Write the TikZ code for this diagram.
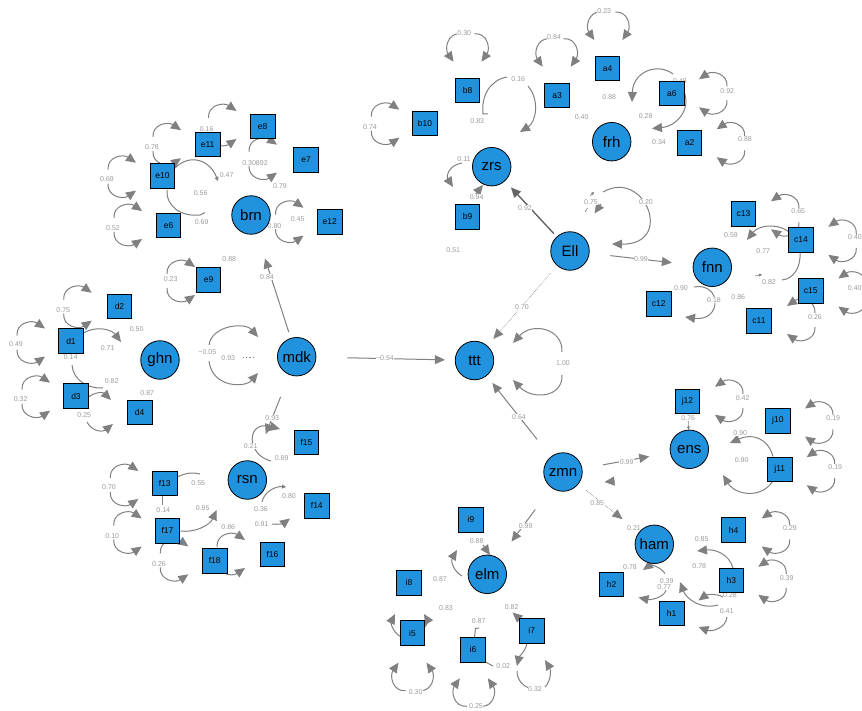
\documentclass[tikz,border=0pt]{standalone}
\usepackage{fontspec}
\setmainfont{Liberation Sans}
\usetikzlibrary{arrows.meta}
\definecolor{nodeblue}{RGB}{33,147,222}
\definecolor{edgegray}{RGB}{128,128,128}
\definecolor{labgray}{RGB}{155,155,155}
\pgfdeclarelayer{bg}
\pgfsetlayers{bg,main}
\tikzset{
  lat/.style={circle, draw=black, line width=0.8pt, fill=nodeblue,
    minimum size=38.5pt, inner sep=0pt, font=\fontsize{15}{15}\selectfont},
  obs/.style={rectangle, draw=black, line width=0.8pt, fill=nodeblue,
    minimum size=24.5pt, inner sep=0pt, font=\fontsize{8.5}{9}\selectfont},
  ln/.style={draw=edgegray, line width=1pt},
  arr/.style={ln, -{Triangle[length=10pt,width=9pt]}},
  smallarr/.style={ln, -{Triangle[length=4pt,width=4pt]}},
  tinyarr/.style={ln, line width=0.6pt, -{Triangle[length=3pt,width=3pt]}},
  lab/.style={text=labgray, font=\fontsize{7}{7}\selectfont, inner sep=0.4pt, fill=white},
}
% variance loop: centre x, centre y, rotation, label, label shift x, label shift y
\newcommand\semloop[6]{%
  \begin{scope}[shift={(#1,#2)},rotate=#3]
    \draw[arr] (1,-7) .. controls (0,-20) and (16,-23) .. (29,-14);
    \draw[arr] (1,7) .. controls (0,20) and (16,23) .. (29,14);
  \end{scope}
  \node[lab] at ({#1+(#5)},{#2+(#6)}) {#4};}

\begin{document}
\begin{tikzpicture}[x=1pt,y=1pt,yscale=-1]
\useasboundingbox (0,0) rectangle (862,711);

% ---------- latent variables ----------
\node[lat] (brn) at (251,215) {brn};
\node[lat] (ghn) at (160,360) {ghn};
\node[lat] (mdk) at (296.7,356.7) {mdk};
\node[lat] (rsn) at (247.3,480) {rsn};
\node[lat] (zrs) at (491.7,166.7) {zrs};
\node[lat] (frh) at (611.7,141.7) {frh};
\node[lat] (Ell) at (570,251) {Ell};
\node[lat] (fnn) at (712.3,267.3) {fnn};
\node[lat] (ttt) at (474.5,360.5) {ttt};
\node[lat] (zmn) at (563,472) {zmn};
\node[lat] (ens) at (689.3,449.3) {ens};
\node[lat] (ham) at (654.3,544.3) {ham};
\node[lat] (elm) at (487.3,574.3) {elm};

% ---------- indicators ----------
\node[obs] (e8) at (262.7,126.5) {e8};
\node[obs] (e11) at (207.7,144.5) {e11};
\node[obs] (e7) at (306,160) {e7};
\node[obs] (e10) at (162.5,176) {e10};
\node[obs] (e6) at (168.5,225.5) {e6};
\node[obs] (e12) at (329.7,222) {e12};
\node[obs] (e9) at (208.5,279.7) {e9};
\node[obs] (d2) at (119.5,306.5) {d2};
\node[obs] (d1) at (71,341) {d1};
\node[obs] (d3) at (76,396) {d3};
\node[obs] (d4) at (139.7,412.5) {d4};
\node[obs] (f15) at (306.5,442.5) {f15};
\node[obs] (f13) at (164.7,483.5) {f13};
\node[obs] (f17) at (167.5,530.8) {f17};
\node[obs] (f18) at (214.7,560.8) {f18};
\node[obs] (f14) at (316.8,505.8) {f14};
\node[obs] (f16) at (272.5,554.2) {f16};
\node[obs] (b8) at (467.5,90.5) {b8};
\node[obs] (b10) at (425,123.5) {b10};
\node[obs] (a3) at (557,95.5) {a3};
\node[obs] (a4) at (607.5,68.5) {a4};
\node[obs] (a6) at (671.8,93.2) {a6};
\node[obs] (a2) at (689.5,142.8) {a2};
\node[obs] (b9) at (467.5,216.8) {b9};
\node[obs] (c13) at (743.5,213.7) {c13};
\node[obs] (c14) at (801,239.7) {c14};
\node[obs] (c15) at (810.8,290.8) {c15};
\node[obs] (c11) at (759,320.8) {c11};
\node[obs] (c12) at (658.8,304) {c12};
\node[obs] (j12) at (687.5,401.5) {j12};
\node[obs] (j10) at (777.8,420.8) {j10};
\node[obs] (j11) at (779.8,469.5) {j11};
\node[obs] (h4) at (733.5,530) {h4};
\node[obs] (h3) at (731.3,580.5) {h3};
\node[obs] (h2) at (611.5,584.5) {h2};
\node[obs] (h1) at (671.7,613.5) {h1};
\node[obs] (i9) at (471,519.8) {i9};
\node[obs] (i8) at (409,582.8) {i8};
\node[obs] (i5) at (412.5,633) {i5};
\node[obs] (i6) at (473,649.8) {i6};
\node[obs] (i7) at (531.8,630.8) {i7};

\begin{pgfonlayer}{bg}
% ---------- structural paths ----------
\draw[arr, shorten <=31pt, shorten >=10pt] (mdk) -- (ttt);
\node[lab] at (385,358.5) {−0.54};
\draw[arr, shorten <=6pt, shorten >=26pt] (mdk) -- (brn);
\node[lab] at (267,277.3) {0.84};
\draw[arr, shorten <=23.6pt, shorten >=29.8pt] (mdk) -- (rsn);
\node[lab] at (272.3,418.3) {0.93};
\draw[arr, line width=1.4pt, draw=gray!80!black, shorten <=4pt, shorten >=8.6pt] (Ell) -- (zrs);
\node[lab] at (525,207.7) {0.92};
\draw[arr, line width=0.6pt, densely dotted, shorten <=10pt, shorten >=9pt] (Ell) -- (ttt);
\node[lab] at (522,307) {0.70};
\draw[arr, shorten <=21pt, shorten >=21pt] (Ell) -- (fnn);
\node[lab] at (641,259) {0.99};
\draw[arr, shorten <=22pt, shorten >=9pt] (zmn) -- (ttt);
\node[lab] at (519,416.7) {0.64};
\draw[arr, shorten <=21pt, shorten >=21pt] (zmn) -- (ens);
\node[lab] at (626.7,462.3) {0.99};
\draw[arr, line width=0.6pt, densely dotted, shorten <=10pt, shorten >=21pt] (zmn) -- (ham);
\node[lab] at (597.3,502.7) {0.85};
\draw[arr, shorten <=27pt, shorten >=21pt] (zmn) -- (elm);
\node[lab] at (525.7,525.7) {0.99};
\draw[arr] (615,481) -- (604.5,482);
\draw[tinyarr] (j12) -- (ens);
\node[lab] at (688.3,417.7) {0.76};

% ttt variance
\draw[arr] (562,352) .. controls (563,328) and (532,322) .. (513,343);
\draw[arr] (562,375) .. controls (563,398) and (532,400) .. (513,380);
\node[lab] at (563,363) {1.00};

% Ell variance
\draw[arr] (603,192) .. controls (645,168) and (675,245) .. (612,244);
\node[lab] at (646,202) {0.20};
\draw[arr] (601,204) -- (594.5,213.5);
\draw[tinyarr] (590,196) -- (594,192);
\draw[ln, line width=0.6pt] (585,212) -- (587.5,208);
\node[lab] at (591,201.7) {0.75};

% ---------- brn block ----------
\semloop{152}{144.2}{0}{0.78}{0}{3}
\semloop{107}{176.7}{0}{0.69}{0}{2.6}
\semloop{113}{225}{0}{0.52}{0}{3}
\semloop{166}{281}{0}{0.23}{4.7}{-1.7}
\semloop{207.5}{125}{0}{0.16}{-0.8}{4.3}
\semloop{248}{158.7}{0}{0.30892}{7}{4.6}
\semloop{274.5}{221.7}{0}{0.80}{0}{4}
\node[lab] at (297.7,219.3) {0.45};
\node[lab] at (280,185.7) {0.79};
\draw[smallarr] (175,168) .. controls (190,153) and (210,160) .. (218,181);
\node[lab] at (226.7,175.3) {0.47};
\draw[ln] (167,190) .. controls (166,207) and (182,217) .. (200,215) -- (205,212.7);
\node[lab] at (201.7,221.7) {0.69};
\node[lab] at (200.7,193.3) {0.56};
\node[lab] at (229.3,259.3) {0.88};

% ---------- ghn / mdk block ----------
\semloop{62.7}{306.7}{0}{0.75}{0.6}{3.3}
\semloop{16}{342.5}{0}{0.49}{0}{2}
\semloop{21}{396.7}{0}{0.32}{-0.3}{2.6}
\draw[arr] (83.5,333) .. controls (97,325) and (112,330) .. (121,342);
\node[lab] at (107.7,348.3) {0.71};
\node[lab] at (136.7,329.3) {0.50};
\draw[ln] (72,365) .. controls (73,380) and (88,389) .. (103,388);
\node[lab] at (70.7,357.3) {0.14};
\node[lab] at (111.7,380.7) {0.82};
\draw[arr] (88.5,397) .. controls (95,392) and (103,392) .. (111,400);
\node[lab] at (147.3,392.7) {0.87};
\draw[arr] (87,422) .. controls (92,432) and (103,432) .. (113,424);
\node[lab] at (84.3,415) {0.25};
\draw[arr] (209,345) .. controls (212,325) and (245,322) .. (258,337);
\draw[arr] (209,361) .. controls (212,388) and (245,388) .. (258,373);
\node[lab] at (207.3,352.3) {−0.05};
\node[lab] at (228.3,358.3) {0.93};
\draw[edgegray, line width=1.2pt, dash pattern=on 1.2pt off 2pt] (243,357.7) -- (255,357.7);

% ---------- rsn block ----------
\draw[arr] (271,461) .. controls (246,455) and (246,420) .. (280,429);
\node[lab] at (250.7,445.7) {0.21};
\node[lab] at (281.7,458.3) {0.89};
\semloop{109.3}{485}{0}{0.70}{-0.3}{1.7}
\semloop{112.7}{532.5}{0}{0.10}{-0.4}{3.2}
\semloop{159.3}{560.3}{0}{0.26}{-0.3}{3.7}
\semloop{216}{554}{0}{}{0}{0}
\draw[ln] (177.5,477) .. controls (185,473) and (193,472) .. (200,474);
\node[lab] at (198.3,482.7) {0.55};
\draw[ln] (162.3,496) -- (162.3,505);
\node[lab] at (163.3,510) {0.14};
\draw[arr] (180.5,531) .. controls (195,533) and (210,525) .. (216.5,510);
\node[lab] at (202.7,508.3) {0.95};
\node[lab] at (228.3,526.7) {0.86};
\draw[smallarr] (262,502) .. controls (264,492) and (275,486) .. (286,487);
\node[lab] at (289,495.7) {0.80};
\node[lab] at (261,509.3) {0.36};
\draw[arr] (272,524) .. controls (279,525) and (284,523) .. (290,518.5);
\node[lab] at (261.7,524.3) {0.91};

% ---------- zrs / frh block ----------
\semloop{370.3}{123.7}{0}{0.74}{-0.3}{3.6}
\semloop{467.5}{32.7}{90}{0.30}{-3.2}{0}
\semloop{556.7}{37.7}{90}{0.84}{-2.7}{-0.4}
\semloop{608.3}{11}{90}{0.23}{-4}{-0.3}
\semloop{728}{93.3}{180}{0.92}{-0.7}{-2.6}
\semloop{745.7}{143.3}{180}{0.88}{-0.7}{-4}
\draw[ln] (507,77) .. controls (490,80) and (481,96) .. (483,114) -- (488,114);
\draw[arr] (528,86) .. controls (540,100) and (536,122) .. (520,132);
\node[lab] at (518.3,78.7) {0.16};
\node[lab] at (477.3,121) {0.83};
\node[lab] at (581.7,116.7) {0.40};
\node[lab] at (609.3,97.3) {0.88};
\draw[arr] (673,74) .. controls (657,62) and (633,72) .. (632,102);
\node[lab] at (680,81) {0.48};
\draw[arr] (684,92) .. controls (691,108) and (678,126) .. (652,128.5);
\node[lab] at (645.7,115.7) {0.28};
\node[lab] at (659,142.3) {0.34};
\draw[arr] (462,163) .. controls (449,165) and (446,176) .. (453,187);
\node[lab] at (464,159.3) {0.11};
\draw[arr] (474,196) -- (483,185);
\node[lab] at (476.7,197.3) {0.94};
\node[lab] at (453.3,250) {0.51};

% ---------- fnn block ----------
\semloop{800}{215.3}{180}{0.65}{-1.7}{-4.6}
\draw[arr] (789,232) .. controls (776,222) and (758,226) .. (747,240);
\node[lab] at (731,235) {0.59};
\node[lab] at (763.3,251) {0.77};
\semloop{857.3}{240.8}{180}{0.40}{-2.3}{-4}
\draw[ln] (800,252.5) .. controls (801,268) and (793,279) .. (782,280);
\node[lab] at (769,281.7) {0.82};
\draw[tinyarr] (755,276) -- (762,274.5);
\semloop{867.3}{292.5}{180}{0.40}{-12.5}{-4}
\semloop{816}{320}{180}{0.26}{-1}{-3.3}
\draw[arr] (694,287) .. controls (722,282) and (722,322) .. (685,317);
\node[lab] at (681,288.3) {0.90};
\node[lab] at (714,300) {0.18};
\node[lab] at (738.3,296.7) {0.86};

% ---------- ens block ----------
\semloop{744}{400.8}{180}{0.42}{-1.3}{-2.5}
\semloop{834}{422.5}{180}{0.19}{-0.7}{-4.2}
\semloop{835.7}{471.2}{180}{0.19}{-0.4}{-4.5}
\draw[arr] (773,456.5) .. controls (768,438) and (752,433) .. (730,443);
\node[lab] at (740.3,433.3) {0.90};
\draw[arr] (772,482) .. controls (762,498) and (736,496) .. (723,475);
\node[lab] at (741.7,460) {0.90};

% ---------- ham block ----------
\node[lab] at (634,527.7) {0.21};
\semloop{790.7}{532.5}{180}{0.29}{-0.7}{-4.2}
\semloop{787.3}{580.8}{180}{0.39}{-0.6}{-3.1}
\draw[arr] (733,568) .. controls (729,554) and (715,549) .. (697,551);
\node[lab] at (701.7,539) {0.85};
\node[lab] at (699.3,565.7) {0.78};
\draw[arr] (723,597) .. controls (716,593) and (706,595) .. (698.5,600.5);
\node[lab] at (730,595) {0.28};
\draw[arr] (718,605) .. controls (700,610) and (686,598) .. (680,582);
\draw[arr] (727,617) .. controls (726,628) and (712,632) .. (698.5,627);
\node[lab] at (726.7,610.7) {0.41};
\draw[arr] (665,573.5) .. controls (660,566) and (650,565) .. (643,570);
\draw[arr] (666,590) .. controls (664,598) and (650,600) .. (638.5,597.5);
\node[lab] at (630,566.7) {0.78};
\node[lab] at (666.7,581) {0.39};
\node[lab] at (664.3,586.7) {0.77};

% ---------- elm block ----------
\draw[arr] (462,576) .. controls (452,570) and (451,560) .. (457,550);
\draw[arr] (483,545) -- (490,555);
\node[lab] at (476.7,540.7) {0.88};
\node[lab] at (440,579.3) {0.87};
\node[lab] at (446,607.7) {0.83};
\draw[arr] (401,637) .. controls (392,632) and (391,622) .. (395,614);
\draw[arr] (425,627) .. controls (428,624) and (427,619) .. (424,614);
\semloop{412.5}{691.7}{270}{0.30}{3.2}{0}
\semloop{473.8}{707.3}{270}{0.25}{2.2}{-1}
\draw[ln] (474.5,637) -- (475.5,628.5) -- (479,628);
\node[lab] at (478.7,620.7) {0.87};
\draw[ln] (485.5,662) -- (493,666);
\node[lab] at (503.3,666) {0.02};
\draw[arr] (521,620) -- (512.5,612.5);
\node[lab] at (511.7,606.7) {0.82};
\draw[arr] (527,643.5) .. controls (525,652) and (519,657) .. (517,666);
\draw[ln] (517,671) .. controls (517,680) and (523,686) .. (529,688);
\draw[arr] (545,687) .. controls (551,681) and (551,670) .. (545,660);
\node[lab] at (535,689.3) {0.32};
\end{pgfonlayer}
\end{tikzpicture}
\end{document}
